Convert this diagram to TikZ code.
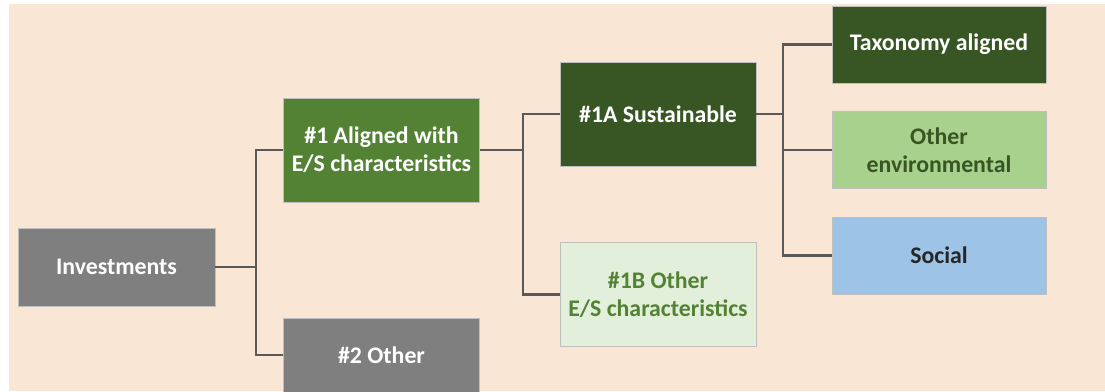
\documentclass[tikz,border=0pt]{standalone}
\usepackage{fontspec}
\setmainfont{Carlito}
\usepackage{xcolor}
\usetikzlibrary{positioning}

\definecolor{peach}{HTML}{FAE6D4}
\definecolor{boxgray}{HTML}{7F7F7F}
\definecolor{midgreen}{HTML}{548235}
\definecolor{darkgreen}{HTML}{375623}
\definecolor{lightgreen}{HTML}{A9D18E}
\definecolor{palegreen}{HTML}{E2EFDA}
\definecolor{lightblue}{HTML}{9DC3E6}
\definecolor{linegray}{HTML}{595959}

\tikzset{
  box/.style={draw=black!25, line width=.6pt, align=center, inner sep=0pt,
    font=\fontsize{23.8}{28}\selectfont\bfseries, text=white},
  wide/.style={box, minimum width=196pt, minimum height=104pt},
  leaf/.style={box, minimum width=214pt, minimum height=77pt},
  link/.style={linegray, line width=2.4pt},
}

\begin{document}
\begin{tikzpicture}[x=1pt, y=-1pt]
\useasboundingbox (0,0) rectangle (1105,391);
\clip (0,0) rectangle (1105,391);
\fill[peach] (9,4) rectangle (1105,391);

% level 0
\node[box, fill=boxgray, minimum width=197pt, minimum height=78pt] (inv) at (116.5,267) {Investments};
% level 1
\node[wide, fill=midgreen] (one) at (381.5,150) {\#1 Aligned with\\E/S characteristics};
\node[wide, fill=boxgray, minimum height=74pt] (two) at (381.5,355) {\#2 Other};
% level 2
\node[wide, fill=darkgreen] (onea) at (658,114) {\#1A Sustainable};
\node[wide, fill=palegreen, text=midgreen] (oneb) at (658,294.5) {\#1B Other\\E/S characteristics};
% level 3
\node[leaf, fill=darkgreen] (tax) at (939,44.5) {Taxonomy aligned};
\node[leaf, fill=lightgreen, text=darkgreen] (env) at (939,150) {Other\\environmental};
\node[leaf, fill=lightblue, text=black!85] (soc) at (939,255.5) {Social};

\coordinate (j0) at (256,267);
\coordinate (j1) at (523,150);
\coordinate (j2) at (783,114);

\draw[link] (inv.east) -- (j0);
\draw[link] (one.west) -| (j0 |- two.west) -- (two.west);
\draw[link] (one.east) -- (j1);
\draw[link] (onea.west) -| (j1 |- oneb.west) -- (oneb.west);
\draw[link] (onea.east) -- (j2);
\draw[link] (tax.west) -| (j2 |- soc.west) -- (soc.west);
\draw[link] (j2 |- env.west) -- (env.west);
\end{tikzpicture}
\end{document}
